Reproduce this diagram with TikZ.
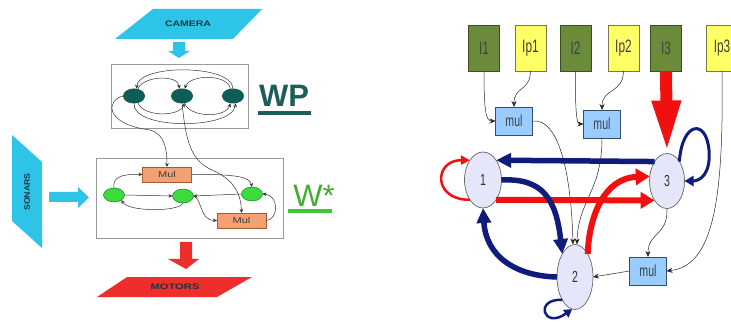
\documentclass[tikz,border=0pt]{standalone}
\usepackage{fontspec}
\setmainfont{Liberation Sans}
\usepackage{graphicx}
\usetikzlibrary{shapes.geometric,arrows.meta}
\definecolor{cyanc}{RGB}{46,196,232}
\definecolor{redc}{RGB}{238,45,45}
\definecolor{tealn}{RGB}{16,92,88}
\definecolor{wpc}{RGB}{30,94,90}
\definecolor{greenn}{RGB}{60,220,60}
\definecolor{wstar}{RGB}{70,170,50}
\definecolor{wline}{RGB}{60,200,50}
\definecolor{mulor}{RGB}{244,160,112}
\definecolor{mulbd}{RGB}{170,90,50}
\definecolor{olive}{RGB}{106,140,58}
\definecolor{oliveb}{RGB}{60,80,30}
\definecolor{yel}{RGB}{255,255,102}
\definecolor{yelb}{RGB}{120,120,80}
\definecolor{lblue}{RGB}{153,204,255}
\definecolor{lblueb}{RGB}{50,80,110}
\definecolor{lav}{RGB}{230,230,250}
\definecolor{navy}{RGB}{16,28,124}
\definecolor{redg}{RGB}{240,16,16}
\definecolor{txtd}{RGB}{32,52,64}
\newcommand{\nrw}[1]{\scalebox{0.66}[1]{#1}}
\newcommand{\wid}[2]{\scalebox{#1}[1]{#2}}
\begin{document}
\begin{tikzpicture}[x=1pt,y=-1pt,
  every node/.style={inner sep=0pt,outer sep=0pt},
  lbl/.style={font=\fontsize{8}{8}\selectfont\bfseries,text=txtd},
  frame/.style={draw=gray!80,line width=0.8pt},
  wpn/.style={ellipse,fill=tealn,minimum width=22pt,minimum height=15pt},
  gn/.style={ellipse,fill=greenn,draw=green!40!black,line width=0.4pt,minimum width=21pt,minimum height=14pt},
  mulbox/.style={rectangle,fill=mulor,draw=mulbd,line width=0.6pt,minimum width=49pt,minimum height=15pt,font=\fontsize{8.5}{9}\selectfont,text=black!75},
  thinar/.style={draw=black!80,line width=0.5pt,-{Stealth[length=4pt,width=3.5pt]}},
  inbox/.style={rectangle,minimum width=31pt,minimum height=46pt,line width=0.8pt,font=\fontsize{18}{18}\selectfont,text=black!75},
  inG/.style={inbox,fill=olive,draw=oliveb},
  inY/.style={inbox,fill=yel,draw=yelb},
  mulb/.style={rectangle,fill=lblue,draw=lblueb,line width=0.8pt,minimum width=37pt,minimum height=28pt,font=\fontsize{16}{16}\selectfont,text=black!75},
  st/.style={ellipse,fill=lav,draw=black!60,line width=0.7pt,font=\fontsize{16}{16}\selectfont,text=black!80},
  gar/.style={draw=black!85,line width=0.5pt,-{Stealth[length=6pt,width=5pt]}},
  navyar/.style={draw=navy,line width=5.5pt,-{Triangle[length=15pt,width=14pt]}},
  redar/.style={draw=redg,line width=6pt,-{Triangle[length=14pt,width=16pt]}}
]
\useasboundingbox (0,0) rectangle (731,323);
\clip (0,0) rectangle (731,323);
\fill[white] (0,0) rectangle (731,323);

% ---------------- left part ----------------
% camera
\fill[cyanc] (153,9) -- (262,9) -- (233,39) -- (115,39) -- cycle;
\node[lbl] (camera) at (188,24) {\wid{1.3}{CAMERA}};
\fill[cyanc] (173,42) -- (185,42) -- (185,51) -- (190,51) -- (179,58) -- (168,51) -- (173,51) -- cycle;

% WP box
\node[frame,rectangle,minimum width=137pt,minimum height=64pt] (wpbox) at (179.5,96) {};
\node[wpn] (p1) at (134,96) {};
\node[wpn] (p2) at (182,96) {};
\node[wpn] (p3) at (233,96) {};
\draw[thinar] (p3.north) .. controls (232,64) and (138,64) .. (p1.70);
\draw[thinar] (p1.60) .. controls (142,76) and (178,74) .. (p2.110);
\draw[thinar] (p3.110) .. controls (228,74) and (190,74) .. (p2.70);
\draw[thinar] (p1.-60) .. controls (142,116) and (178,118) .. (p2.-70);
\draw[thinar] (p2.-70) .. controls (190,118) and (226,118) .. (p3.-110);
\draw[thinar] (p1.south) .. controls (132,130) and (232,130) .. (p3.-70);
\node[font=\fontsize{31}{31}\selectfont\bfseries,text=wpc] (wp) at (284,96) {WP};
\fill[wpc] (258,111) rectangle (311,115);

% W* box
\node[frame,rectangle,minimum width=187pt,minimum height=80pt] (wsbox) at (189.5,198) {};
\node[mulbox] (mulA) at (167,174.5) {\wid{1.3}{Mul}};
\node[mulbox] (mulB) at (241.5,220.5) {\wid{1.3}{Mul}};
\node[gn] (g1) at (114,195) {};
\node[gn] (g2) at (183,196) {};
\node[gn] (g3) at (252,194) {};
\draw[thinar] (g1.north) .. controls (112,176) and (124,174) .. (mulA.west);
\draw[thinar] (g1.east) -- (g2.west);
\draw[thinar] (g2.south) .. controls (180,212) and (128,212) .. (g1.south east);
\draw[thinar] (mulA.east) .. controls (236,174) and (250,177) .. (g3.north);
\draw[thinar] (g3.west) -- (g2.east);
\draw[thinar] (g2.east) .. controls (203,200) and (199,220) .. (mulB.west);
\draw[thinar] (mulB.east) .. controls (279,220) and (279,195) .. (g3.east);
% links WP -> W*
\draw[thinar] (p1.west) .. controls (106,100) and (104,124) .. (150,130) .. controls (165,134) and (167,150) .. (mulA.north);
\draw[thinar] (p2.south) .. controls (186,140) and (190,160) .. (212,170) .. controls (235,180) and (241,195) .. (mulB.north);
\node[font=\fontsize{31}{31}\selectfont,text=wstar] (ws) at (314,196) {W*};
\fill[wline] (288,209) rectangle (332,213);

% sonars
\fill[cyanc] (12,135) -- (42,162) -- (42,248) -- (12,221) -- cycle;
\node[lbl,rotate=90] (sonars) at (27,192) {\wid{1.1}{SONARS}};
\fill[cyanc] (49,192) -- (78,192) -- (78,187) -- (89,197.5) -- (78,208) -- (78,202) -- (49,202) -- cycle;

% motors
\fill[redc] (180,242) -- (192,242) -- (192,259) -- (199,259) -- (186,269) -- (168,259) -- (180,259) -- cycle;
\fill[redc] (127,277) -- (252,277) -- (217,297) -- (97,297) -- cycle;
\node[lbl] (motors) at (175,287) {\wid{1.4}{MOTORS}};

% ---------------- right part ----------------
\node[inG] (I1) at (484,48) {\nrw{I1}};
\node[inY] (Ip1) at (530.5,48) {\nrw{Ip1}};
\node[inG] (I2) at (575.5,48) {\nrw{I2}};
\node[inY] (Ip2) at (623.5,48) {\nrw{Ip2}};
\node[inG] (I3) at (666,48) {\nrw{I3}};
\node[inY] (Ip3) at (722,48) {\nrw{Ip3}};

\node[mulb] (m1) at (514,121) {\nrw{mul}};
\node[mulb] (m2) at (602,124) {\nrw{mul}};
\node[mulb] (m3) at (648,271) {\nrw{mul}};

\node[st,minimum width=37pt,minimum height=56pt] (n1) at (483,180) {\nrw{1}};
\node[st,minimum width=35pt,minimum height=55pt] (n3) at (667,181) {\nrw{3}};
\node[st,minimum width=36pt,minimum height=65pt] (n2) at (575,277) {\nrw{2}};

\draw[gar] (I1.south) .. controls (484,112) and (486,121) .. (m1.west);
\draw[gar] (Ip1.south) .. controls (530,92) and (514,86) .. (m1.north);
\draw[gar] (I2.south) .. controls (575,114) and (577,124) .. (m2.west);
\draw[gar] (Ip2.south) .. controls (623,94) and (602,88) .. (m2.north);
\draw[gar] (m1.east) .. controls (558,118) and (571,170) .. ([xshift=-2pt]n2.north);
\draw[gar] (m2.south) .. controls (602,192) and (578,200) .. ([xshift=2pt]n2.north);
\draw[gar] (n3.south) .. controls (668,236) and (648,232) .. (m3.north);
\draw[gar] (Ip3.south) .. controls (724,205) and (712,266) .. (m3.east);
\draw[gar] (m3.west) -- (n2.east);

% big red input arrow
\draw[draw=redg,line width=12pt,-{Triangle[length=53pt,width=26pt]}] (I3.south) -- (n3.north);

% thick edges
\draw[navyar] (n3.north west) -- (n1.north east);
\draw[redar] (n1.south east) -- (n3.south west);
\draw[navyar] (n1.east) .. controls (542,178) and (556,198) .. (n2.north west);
\draw[navyar] (n2.west) .. controls (515,276) and (486,256) .. (n1.south);
\draw[redar] (n2.north east) .. controls (589,215) and (605,178) .. (n3.165);

% self loops
\draw[draw=redg,line width=2.5pt,-{Triangle[length=9pt,width=9pt]}] (n1.south west) .. controls (432,200) and (434,160) .. (n1.north west);
\draw[draw=navy,line width=3pt,-{Triangle[length=9pt,width=10pt]}] (n3.north east) .. controls (682,122) and (706,118) .. (709,150) .. controls (711,174) and (700,181) .. (n3.east);
\draw[draw=navy,line width=2.5pt,-{Triangle[length=8pt,width=9pt]}] (n2.south west) .. controls (534,298) and (543,330) .. (n2.-95);
\end{tikzpicture}
\end{document}
